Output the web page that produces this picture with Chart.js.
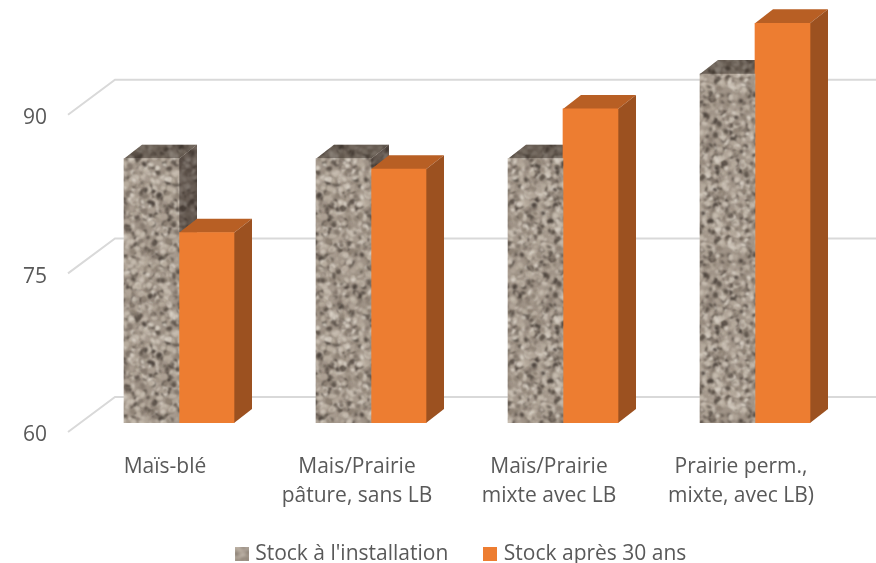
<!DOCTYPE html>
<html><head><meta charset="utf-8">
<style>html,body{margin:0;padding:0;background:#fff}canvas{display:block}</style>
<script src="https://cdn.jsdelivr.net/npm/chart.js@4"></script>
</head><body><canvas id="c" width="876" height="563"></canvas>
<script>
const categories=[["Maïs-blé"],["Mais/Prairie","pâture, sans LB"],["Maïs/Prairie","mixte avec LB"],["Prairie perm.,","mixte, avec LB)"]];
const seriesNames=["Stock à l'installation","Stock après 30 ans"];
const stockInitial=[85,85,85,93];
const stockFinal=[78,84,89.7,97.8];
const tickValues=[60,75,90];
const axisMin=60, axisMax=100;
const depth={x:18,y:14}, gridDepth={fx:-15,fy:9,bx:32,by:-26};
const textColor='#595959', gridColor='#d9d9d9';
const orange='#ed7d31', orangeTop='#b85f24', orangeSide='#9c5120';

function granite(size){
  const g=document.createElement('canvas');g.width=g.height=size;
  const t=g.getContext('2d');t.fillStyle='#a09488';t.fillRect(0,0,size,size);
  let s=12345;const next=()=>{s=(s*1103515245+12345)&0x7fffffff;return s/0x7fffffff;};
  t.filter='blur(0.8px)';
  const cols=['#c8beb2','#b8ad9f','#85796e','#a89c90','#d6cec3','#b0a497','#8f8376','#5f554c','#c4baad','#4e453e'];
  for(let i=0;i<size*size/10;i++){
    t.fillStyle=cols[Math.floor(next()*cols.length)];
    const px=next()*size,py=next()*size,a=1+next()*2.6,b=1+next()*2,r=next()*3;
    for(const ox of [-size,0,size])for(const oy of [-size,0,size]){t.beginPath();t.ellipse(px+ox,py+oy,a,b,r,0,7);t.fill();}
  }
  return g;
}
const tex=granite(160);
const ctx0=document.getElementById('c').getContext('2d');
const granitePattern=ctx0.createPattern(tex,'repeat');
function swatch(fill){const k=document.createElement('canvas');k.width=k.height=14;const t=k.getContext('2d');
  if(fill==='tex'){t.filter='blur(1.5px)';t.drawImage(tex,10,10,30,30,-2,-2,18,18);}else{t.fillStyle=fill;t.fillRect(0,0,14,14);}return k;}
const swatches=[swatch('tex'),swatch(orange)];

const depthPlugin={id:'depth3d',
  afterLayout(chart){
    const L=chart.legend;
    L.top=504.5;L.bottom=563;L.left+=37;L.right+=37;
  },
  beforeDatasetsDraw(chart){
    const {ctx,scales:{x,y}}=chart;
    ctx.save();ctx.strokeStyle=gridColor;ctx.lineWidth=2;
    y.ticks.forEach(t=>{const p=y.getPixelForValue(t.value);
      ctx.beginPath();ctx.moveTo(x.left+gridDepth.fx,p+gridDepth.fy);ctx.lineTo(x.left+gridDepth.bx,p+gridDepth.by);ctx.lineTo(chart.width,p+gridDepth.by);ctx.stroke();});
    ctx.restore();
    [0,1].forEach(idx=>chart.getDatasetMeta(idx).data.forEach(b=>{
      const l=b.x-b.width/2,r=b.x+b.width/2,t=b.y,bt=b.base,dx=depth.x,dy=depth.y;
      ctx.save();
      ctx.beginPath();ctx.moveTo(l,t);ctx.lineTo(l+dx,t-dy);ctx.lineTo(r+dx,t-dy);ctx.lineTo(r,t);ctx.closePath();
      if(idx===0){ctx.fillStyle=granitePattern;ctx.fill();ctx.fillStyle='rgba(40,30,25,.45)';ctx.fill();}else{ctx.fillStyle=orangeTop;ctx.fill();}
      ctx.beginPath();ctx.moveTo(r,t);ctx.lineTo(r+dx,t-dy);ctx.lineTo(r+dx,bt-dy);ctx.lineTo(r,bt);ctx.closePath();
      if(idx===0){ctx.fillStyle=granitePattern;ctx.fill();ctx.fillStyle='rgba(40,30,25,.5)';ctx.fill();}else{ctx.fillStyle=orangeSide;ctx.fill();}
      ctx.restore();
    }));
  }
};
const font={family:'"Open Sans"',size:21,lineHeight:1.38};
const legendPad=39;
new Chart(ctx0,{type:'bar',
  data:{labels:categories,datasets:[
    {label:seriesNames[0],data:stockInitial,backgroundColor:granitePattern,base:axisMin,barThickness:55},
    {label:seriesNames[1],data:stockFinal,backgroundColor:orange,base:axisMin,barThickness:55}]},
  plugins:[depthPlugin],
  options:{responsive:false,animation:false,devicePixelRatio:1,
    layout:{padding:{left:0,right:25,top:0,bottom:0}},
    plugins:{tooltip:{enabled:false},
      legend:{position:'bottom',maxHeight:40,labels:{usePointStyle:true,boxWidth:6,boxHeight:14,padding:legendPad,color:textColor,font:{family:'"Open Sans"',size:21},
        generateLabels(ch){return Chart.defaults.plugins.legend.labels.generateLabels(ch).map(i=>({...i,pointStyle:swatches[i.datasetIndex]}));}}}},
    scales:{
      x:{grid:{display:false},border:{display:false},
        ticks:{color:textColor,font,padding:22,labelOffset:-14,maxRotation:0,autoSkip:false},
        afterFit(s){s.height=100;s.paddingLeft=0;s.paddingRight=0;}},
      y:{min:axisMin,max:axisMax,grid:{display:false,drawTicks:false},border:{display:false},
        ticks:{color:textColor,font:{family:'"Open Sans"',size:21},padding:36,labelOffset:12.5},
        afterBuildTicks(s){s.ticks=tickValues.map(value=>({value}));},
        afterFit(s){s.width=83;s.paddingTop=0;s.paddingBottom=0;}}
    }}});
</script></body></html>
